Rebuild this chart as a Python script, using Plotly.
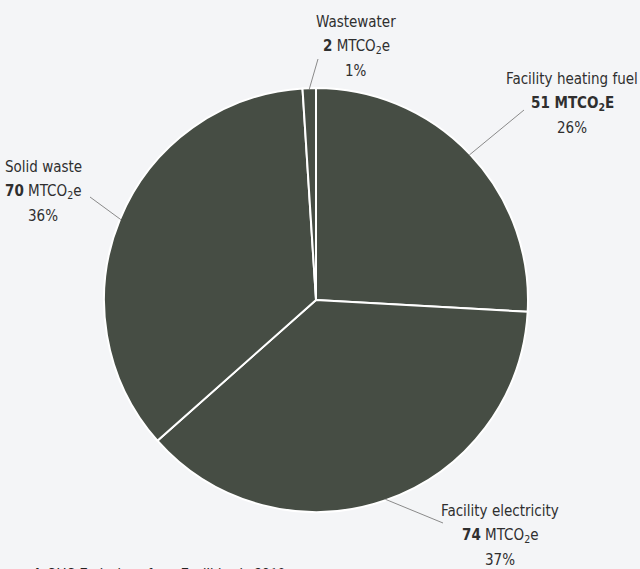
import math
import plotly.graph_objects as go

# ---- data ----
categories = ["Facility heating fuel", "Facility electricity", "Solid waste", "Wastewater"]
values = [51, 74, 70, 2]
percent_labels = ["26%", "37%", "36%", "1%"]
amount_html = ["<b>51 MTCO<sub>2</sub>E</b>", "<b>74</b> MTCO<sub>2</sub>e",
               "<b>70</b> MTCO<sub>2</sub>e", "<b>2</b> MTCO<sub>2</sub>e"]
caption = "<b>4</b>  GHG Emissions from Facilities in 2018"

# ---- layout constants ----
W, H = 640, 569
CX, CY, R = 316, 300, 212          # pie centre / radius in px
FONT = "DejaVu Sans Condensed, Liberation Sans Narrow, sans-serif"
TXT = "#2f2f2f"
LINE_GAP = 24.5
# label block: centre x and y of first line (px); leader-line outer end (px), per slice
label_pos = [(572, 79), (500, 511), (43, 167), (356, 22)]
line_end = [(524, 110), (443, 523), (90, 197), (318, 59)]

def px(x, y):
    return x / W, 1 - y / H

fig = go.Figure()
fig.add_trace(go.Pie(
    labels=categories, values=values, sort=False, direction="clockwise", rotation=0,
    marker=dict(colors=["#464d44"] * len(values), line=dict(color="white", width=2)),
    textinfo="none", hoverinfo="label+value+percent", showlegend=False,
    domain=dict(x=[(CX - R) / W, (CX + R) / W], y=[(H - CY - R) / H, (H - CY + R) / H]),
))

total = sum(values)
shapes, annotations = [], []
cum = 0
for i, v in enumerate(values):
    mid = (cum + v / 2) / total * 2 * math.pi
    cum += v
    x0 = CX + (R - 1) * math.sin(mid)
    y0 = CY - (R - 1) * math.cos(mid)
    ax, ay = px(x0, y0)
    bx, by = px(*line_end[i])
    shapes.append(dict(type="line", xref="paper", yref="paper", x0=ax, y0=ay, x1=bx, y1=by,
                       line=dict(color="#8a8a8a", width=1)))
    lines = [categories[i], amount_html[i], percent_labels[i]]
    for k, t in enumerate(lines):
        lx, ly = px(label_pos[i][0], label_pos[i][1] + k * LINE_GAP)
        annotations.append(dict(
            xref="paper", yref="paper", x=lx, y=ly, showarrow=False,
            xanchor="center", yanchor="middle", text=t,
            font=dict(family=FONT, size=15, color=TXT),
        ))

cx, cy = px(30, 564)
annotations.append(dict(xref="paper", yref="paper", x=cx, y=cy, xanchor="left", yanchor="top",
                        showarrow=False, text=caption,
                        font=dict(family="Roboto, sans-serif", size=14, color="#222")))

fig.update_layout(
    width=W, height=H, margin=dict(l=0, r=0, t=0, b=0),
    paper_bgcolor="#f4f5f7", plot_bgcolor="#f4f5f7",
    shapes=shapes, annotations=annotations,
)
fig.write_html("out.html")
